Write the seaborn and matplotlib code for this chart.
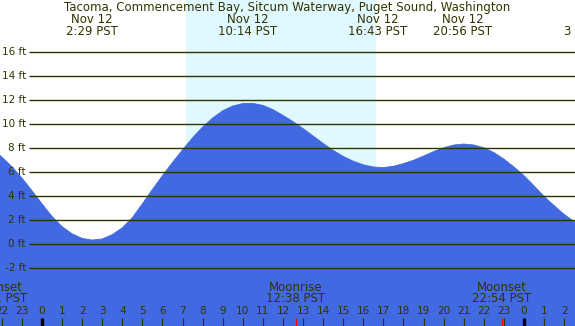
import numpy as np
import pandas as pd
import matplotlib
matplotlib.use("Agg")
import matplotlib.pyplot as plt
import seaborn as sns

# tide heights (ft), half-hourly, hours since midnight Nov 12
hours = [-2.5, -2.0, -1.5, -1.0, -0.5, 0.0, 0.5, 1.0, 1.5, 2.0, 2.5, 3.0, 3.5,
         4.0, 4.5, 5.0, 5.5, 6.0, 6.5, 7.0, 7.5, 8.0, 8.5, 9.0, 9.5, 10.0,
         10.5, 11.0, 11.5, 12.0, 12.5, 13.0, 13.5, 14.0, 14.5, 15.0, 15.5,
         16.0, 16.5, 17.0, 17.5, 18.0, 18.5, 19.0, 19.5, 20.0, 20.5, 21.0,
         21.5, 22.0, 22.5, 23.0, 23.5, 24.0, 24.5, 25.0, 25.5, 26.0, 26.5, 27.0]
height_ft = [7.95, 7.25, 6.45, 5.5, 4.45, 3.35, 2.3, 1.45, 0.85, 0.47, 0.33, 0.42, 0.78,
             1.35, 2.2, 3.35, 4.55, 5.7, 6.8, 7.85, 8.85, 9.75, 10.5, 11.1, 11.5, 11.7,
             11.72, 11.55, 11.2, 10.72, 10.2, 9.62, 9.0, 8.38, 7.8, 7.3, 6.9,
             6.6, 6.42, 6.37, 6.48, 6.7, 6.98, 7.33, 7.7, 8.02, 8.25, 8.33,
             8.25, 8.02, 7.62, 7.08, 6.42, 5.7, 4.85, 3.97, 3.2, 2.47, 1.87, 1.32]

# extremes shown along the top
extreme_hours = [2.48, 10.23, 16.72, 20.93]
extreme_labels = ["2:29 PST", "10:14 PST", "16:43 PST", "20:56 PST"]

sunrise, sunset = 7.16, 16.62
moon_events = [(-2.2, "Moonset", "21:51 PST"),
               (12.63, "Moonrise", "12:38 PST"),
               (22.9, "Moonset", "22:54 PST")]

ft_levels = [-2, 0, 2, 4, 6, 8, 10, 12, 14, 16]
hour_ticks = list(range(-2, 27))
hour_labels = [str(h % 24) for h in hour_ticks]

NIGHT = "#B0C4DE"
DAY = "#E0F8FF"
WATER = "#4169E1"
INK = "#333300"

sns.set_style("white")
plt.rcParams["font.family"] = ["DejaVu Sans"]

df = pd.DataFrame({"hour": hours, "ft": height_ft})

fig = plt.figure(figsize=(5.75, 3.26), dpi=100)
ax = fig.add_axes([0, 0, 1, 1])
ax.set_xlim(-2.09, 26.54)
ax.set_ylim(-6.83, 20.33)
ax.set_facecolor(NIGHT)
ax.axvspan(sunrise, sunset, color=DAY, lw=0)

ax.fill_between(df["hour"], -10, df["ft"], color=WATER, lw=0)
sns.lineplot(data=df, x="hour", y="ft", color=WATER, lw=0.6, ax=ax)

# horizontal level lines with labels
ax.hlines(ft_levels, -0.65, 27, color=INK, lw=1.0)
for lv in ft_levels:
    ax.text(-0.8, lv, f"{lv} ft", ha="right", va="center", fontsize=7.5, color=INK)

# title and extremes
big = 8.5
fig.text(0.5, 1 - 7.5 / 326, "Tacoma, Commencement Bay, Sitcum Waterway, Puget Sound, Washington",
         ha="center", va="center", fontsize=big, color=INK)
for h, lab in zip(extreme_hours, extreme_labels):
    ax.text(h, 18.72, "Nov 12", ha="center", va="center", fontsize=big, color=INK)
    ax.text(h, 17.72, lab, ha="center", va="center", fontsize=big, color=INK)
ax.text(26.15, 17.72, "3", ha="center", va="center", fontsize=big, color=INK)

# hour axis at the bottom
for h, lab in zip(hour_ticks, hour_labels):
    ax.text(h, -5.6, lab, ha="center", va="center", fontsize=7.6, color=INK)
    lw = 2.4 if h % 24 == 0 else 0.8
    ax.vlines(h, -6.9, -6.2, color=INK if h % 24 else "black", lw=lw)

# moon rise/set
for h, name, t in moon_events:
    ax.text(h, -3.6, name, ha="center", va="center", fontsize=big, color=INK)
    ax.text(h, -4.55, t, ha="center", va="center", fontsize=big, color=INK)
    if h > 0:
        ax.vlines(h, -6.9, -6.2, color="red", lw=0.8)

ax.axis("off")
fig.savefig("out.png", dpi=100)
plt.close(fig)
